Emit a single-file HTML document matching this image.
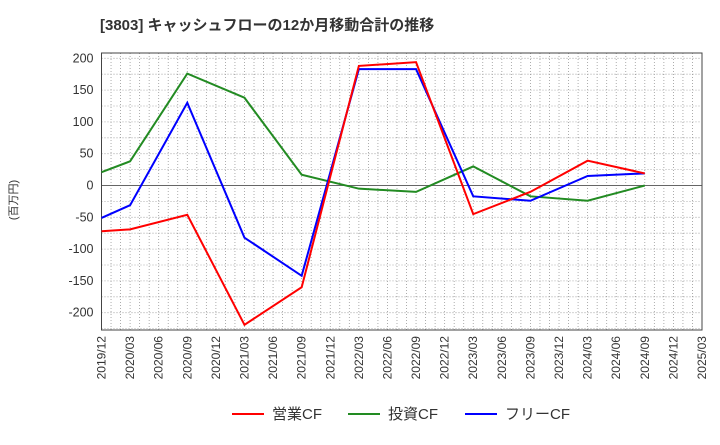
<!DOCTYPE html>
<html><head><meta charset="utf-8"><style>
body{margin:0;background:#fff;font-family:"Liberation Sans","Noto Sans CJK JP",sans-serif;}
</style></head><body>
<svg id="c" width="720" height="440" xmlns="http://www.w3.org/2000/svg">
<text x="100" y="30" font-size="15" font-weight="bold" fill="#333">[3803]  キャッシュフローの12か月移動合計の推移</text>
<text transform="translate(17,200) rotate(-90)" text-anchor="middle" font-size="11" fill="#333">(百万円)</text>
<g id="grid"></g><g id="axes"></g><g id="series"></g><g id="legend"></g>
</svg>
<script>
const xLabels=["2019/12","2020/03","2020/06","2020/09","2020/12","2021/03","2021/06","2021/09","2021/12","2022/03","2022/06","2022/09","2022/12","2023/03","2023/06","2023/09","2023/12","2024/03","2024/06","2024/09","2024/12","2025/03"];
const yTicks=[200,150,100,50,0,-50,-100,-150,-200];
const opIdx=[0,1,3,5,7,9,11,13,15,17,19];
const opVals=[-72,-69,-46,-219,-160,188,194,-45,-10,39,19];
const invIdx=[0,1,3,5,7,9,11,13,15,17,19];
const invVals=[21,38,176,138,17,-5,-10,30,-17,-24,0];
const fcfIdx=[0,1,3,5,7,9,11,13,15,17,19];
const fcfVals=[-51,-31,130,-82,-142,183,183,-17,-24,15,19];
const L=101.5,R=702,T=53,B=330;
const X=i=>L+i*(R-L)/21;
const Y=v=>185.5-v*0.636;
const NS="http://www.w3.org/2000/svg";
function mk(t,a,p){const e=document.createElementNS(NS,t);for(const k in a)e.setAttribute(k,a[k]);p.appendChild(e);return e;}
const g=document.getElementById('grid'),ax=document.getElementById('axes'),s=document.getElementById('series'),lg=document.getElementById('legend');
for(let m=1;m<63;m++){const x=L+m*(R-L)/63;const e=mk('line',{x1:x,x2:x,y1:T,y2:B,stroke:'#999','stroke-dasharray':'1,2','stroke-width':0.8},g);}
for(let v=-225;v<=200;v+=25){const y=Y(v);const e=mk('line',{x1:L,x2:R,y1:y,y2:y,stroke:v===0?'#666':'#999','stroke-dasharray':v===0?'':'1,2','stroke-width':v===0?1:0.8},g);}
const fr=mk('rect',{x:L,y:T,width:R-L,height:B-T,fill:'none',stroke:'#444'},ax);

yTicks.forEach(v=>{const t=mk('text',{x:L-8,y:Y(v)+4,'text-anchor':'end','font-size':12.5,fill:'#333'},ax);t.textContent=v;});
xLabels.forEach((l,i)=>{const x=X(i)+4;const t=mk('text',{transform:`translate(${x},${B+6}) rotate(-90)`,'text-anchor':'end','font-size':12,fill:'#333'},ax);t.textContent=l;});
function line(idx,vals,col,name){const p=mk('polyline',{points:idx.map((i,k)=>X(i)+','+Y(vals[k])).join(' '),fill:'none',stroke:col,'stroke-width':2},s);}
line(invIdx,invVals,'#228b22','investing-cf-line');
line(fcfIdx,fcfVals,'#0000ff','free-cf-line');
line(opIdx,opVals,'#ff0000','operating-cf-line');
[['営業CF','#ff0000',232],['投資CF','#228b22',348],['フリーCF','#0000ff',465]].forEach(([n,c,x])=>{const gg=mk('g',{},lg);mk('line',{x1:x,x2:x+32,y1:414,y2:414,stroke:c,'stroke-width':2},gg);const t=mk('text',{x:x+40,y:419,'font-size':15,fill:'#333'},gg);t.textContent=n;});
</script>
</body></html>
